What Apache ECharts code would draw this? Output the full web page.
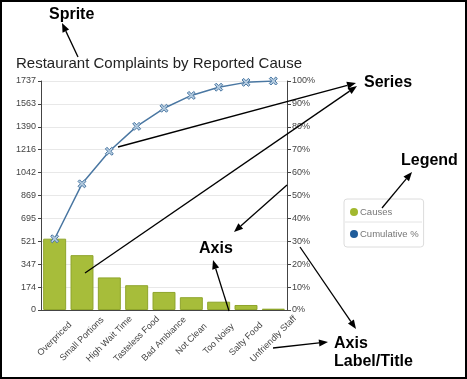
<!DOCTYPE html>
<html>
<head>
<meta charset="utf-8">
<script src="https://cdn.jsdelivr.net/npm/echarts@6/dist/echarts.min.js"></script>
<style>html,body{margin:0;padding:0;background:#fff;}#c{width:467px;height:379px;}</style>
</head>
<body>
<div id="c"></div>
<script>
var categories = ['Overpriced','Small Portions','High Wait Time','Tasteless Food','Bad Ambiance','Not Clean','Too Noisy','Salty Food','Unfriendly Staff'];
var causes = [541, 416, 247, 188, 137, 97, 63, 38, 10];
var cumulativePct = [31.1, 55.1, 69.3, 80.2, 88.1, 93.7, 97.3, 99.4, 100];
var leftTicks = ['0','174','347','521','695','869','1042','1216','1390','1563','1737'];
var rightTicks = ['0%','10%','20%','30%','40%','50%','60%','70%','80%','90%','100%'];

var FONT = '"Liberation Sans", Arial, Helvetica, sans-serif';
var chart = echarts.init(document.getElementById('c'), null, {renderer: 'canvas'});

function arrow(x1, y1, x2, y2) {
  var a = Math.atan2(y2 - y1, x2 - x1), L = 9, W = 3.6;
  var bx = x2 - L * Math.cos(a), by = y2 - L * Math.sin(a);
  var px = -Math.sin(a) * W, py = Math.cos(a) * W;
  return [
    {type: 'line', silent: true, z: 100, shape: {x1: x1, y1: y1, x2: bx, y2: by}, style: {stroke: '#000', lineWidth: 1.3}},
    {type: 'polygon', silent: true, z: 100, shape: {points: [[x2, y2], [bx + px, by + py], [bx - px, by - py]]}, style: {fill: '#000'}}
  ];
}
function label(text, x, y) {
  return {type: 'text', silent: true, z: 100, x: x, y: y,
    style: {text: text, font: 'bold 16px ' + FONT, fill: '#000', textVerticalAlign: 'middle'}};
}

var graphics = [
  {type: 'rect', silent: true, z: 100, shape: {x: 1, y: 1, width: 465, height: 377}, style: {fill: 'none', stroke: '#000', lineWidth: 2}},
  {type: 'line', silent: true, z: 50, shape: {x1: 345, y1: 222, x2: 422, y2: 222}, style: {stroke: '#e4e4e4', lineWidth: 1}},
  label('Sprite', 49, 15),
  label('Series', 364, 83),
  label('Legend', 401, 161),
  label('Axis', 199, 249),
  label('Axis', 334, 344),
  label('Label/Title', 334, 362)
];
graphics = graphics
  .concat(arrow(78, 57, 62, 23))
  .concat(arrow(118, 147, 356, 83))
  .concat(arrow(85, 273, 357, 86))
  .concat(arrow(382, 208, 412, 172))
  .concat(arrow(287, 185, 234, 232))
  .concat(arrow(229, 311, 213, 260))
  .concat(arrow(300, 247, 356, 329))
  .concat(arrow(273, 348, 328, 342));

var xSymbol = 'path://M2,0 L5,3 L8,0 L10,2 L7,5 L10,8 L8,10 L5,7 L2,10 L0,8 L3,5 L0,2 Z';

chart.setOption({
  animation: false,
  textStyle: {fontFamily: FONT},
  title: {
    text: 'Restaurant Complaints by Reported Cause',
    left: 16, top: 56, padding: 0,
    textStyle: {fontSize: 15, fontWeight: 'normal', color: '#222', fontFamily: FONT}
  },
  legend: {
    orient: 'vertical', left: 344, top: 199, width: 60,
    padding: [8, 5, 8, 6],
    borderColor: '#dcdcdc', borderWidth: 1, borderRadius: 3,
    itemWidth: 8, itemHeight: 8, itemGap: 12,
    textStyle: {fontSize: 9.5, color: '#777', fontFamily: FONT, padding: [0, 0, 0, -3]},
    data: [
      {name: 'Causes', icon: 'circle', itemStyle: {color: '#a2b82e', borderWidth: 0}},
      {name: 'Cumulative %', icon: 'circle', itemStyle: {color: '#1f5c9a', borderWidth: 0}}
    ]
  },
  grid: {left: 41, right: 180, top: 81, bottom: 69, containLabel: false},
  xAxis: {
    type: 'category', data: categories,
    axisLine: {lineStyle: {color: '#444'}},
    axisTick: {alignWithLabel: true, length: 4, lineStyle: {color: '#444'}},
    axisLabel: {interval: 0, rotate: 45, align: 'center', verticalAlign: 'middle', margin: 29, fontSize: 9, color: '#444', fontFamily: FONT}
  },
  yAxis: [
    {
      type: 'value', min: 0, max: 1737, interval: 173.7,
      axisLine: {show: true, lineStyle: {color: '#444'}},
      axisTick: {show: true, length: 3, lineStyle: {color: '#444'}},
      axisLabel: {fontSize: 9, color: '#444', margin: 5, fontFamily: FONT,
        formatter: function (v) { var i = Math.round(v / 173.7); return leftTicks[i]; }},
      splitLine: {lineStyle: {color: '#e8e8e8'}}
    },
    {
      type: 'value', min: 0, max: 100, interval: 10, position: 'right',
      axisLine: {show: true, lineStyle: {color: '#444'}},
      axisTick: {show: true, length: 4, lineStyle: {color: '#444'}},
      axisLabel: {fontSize: 9, color: '#444', margin: 5, fontFamily: FONT,
        formatter: function (v) { return rightTicks[Math.round(v / 10)]; }},
      splitLine: {show: false}
    }
  ],
  series: [
    {
      name: 'Causes', type: 'bar', data: causes, barCategoryGap: '16%',
      itemStyle: {color: '#a7bd3a', borderColor: '#8fa52c', borderWidth: 1}
    },
    {
      name: 'Cumulative %', type: 'line', yAxisIndex: 1, data: cumulativePct,
      symbol: xSymbol, symbolSize: 8, showAllSymbol: true,
      lineStyle: {color: '#4a77a2', width: 1.5},
      itemStyle: {color: '#b5cce0', borderColor: '#4a77a2', borderWidth: 1}
    }
  ],
  graphic: graphics
});
</script>
</body>
</html>
